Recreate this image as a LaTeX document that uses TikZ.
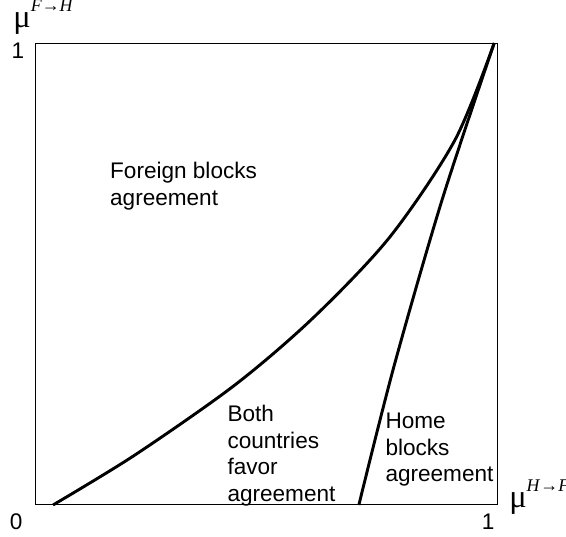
\documentclass[tikz,border=0pt]{standalone}
\usepackage{fontspec}
\setmainfont{Liberation Sans}
\newfontfamily\greekfont{Liberation Serif}
\usepackage{tikz}
\usetikzlibrary{positioning}
\newcommand{\muaxis}[2]{{\greekfont\fontsize{20}{22}\selectfont μ}\raisebox{10pt}{\greekfont\fontsize{11}{12}\selectfont\textit{#1}→\textit{#2}}}

\begin{document}
\begin{tikzpicture}[x=10cm, y=10cm, font=\fontsize{13.9}{16.3}\selectfont,
  region/.style={align=left, anchor=north west, inner sep=0pt},
  tick/.style={inner sep=0pt},
  boundary/.style={line width=1.8pt, line join=round}]
  \useasboundingbox (-0.0758,-0.0693) rectangle (1.1494,1.0931);
  % Unit square
  \draw[line width=0.6pt] (0,0) rectangle (1,1);
  \node[tick] (zero) at (-0.041,-0.037) {0};
  \node[tick] (onex) at (0.981,-0.037) {1};
  \node[tick] (oney) at (-0.037,0.983) {1};
  \node[tick, anchor=base west] (muy) at (-0.0476,1.0325) {\muaxis{F}{H}};
  \node[tick, anchor=base west] (mux) at (1.026,-0.0065) {\muaxis{H}{F}};
  % Foreign indifference curve
  \draw[boundary] plot[smooth] coordinates {(0.039,0) (0.216,0.108) (0.433,0.260)
    (0.602,0.405) (0.768,0.580) (0.909,0.790) (0.994,1)};
  % Home indifference curve
  \draw[boundary] plot[smooth] coordinates {(0.701,0) (0.777,0.30)
    (0.881,0.660) (0.994,1)};
  % Regions
  \node[region] (foreign) at (0.162,0.742) {Foreign blocks\\agreement};
  \node[region] (both) at (0.416,0.216) {Both\\countries\\favor\\agreement};
  \node[region] (home) at (0.758,0.199) {Home\\blocks\\agreement};
\end{tikzpicture}
\end{document}
